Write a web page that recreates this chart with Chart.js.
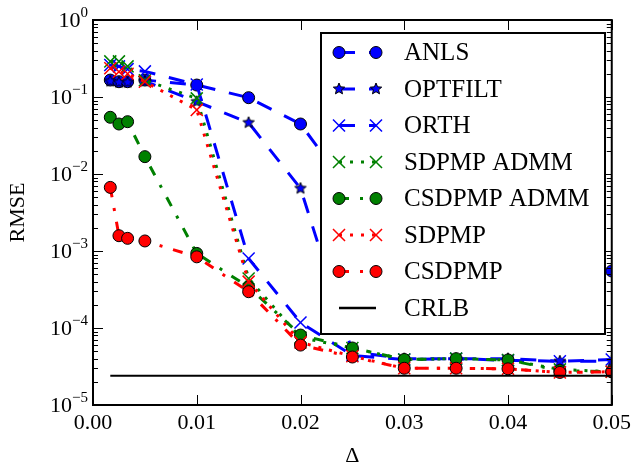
<!DOCTYPE html>
<html>
<head>
<meta charset="utf-8">
<script src="https://cdn.jsdelivr.net/npm/chart.js@4.4.0/dist/chart.umd.min.js"></script>
<style>
html, body { margin: 0; padding: 0; background: #fff; }
#wrap { width: 636px; height: 464px; }
</style>
</head>
<body>
<div id="wrap"><canvas id="rmseChart" width="636" height="464"></canvas></div>
<script>
// x values (Delta)
var delta = [1/600, 1/400, 1/300, 0.005, 0.01, 0.015, 0.02, 0.025, 0.03, 0.035, 0.04, 0.045, 0.05];

// RMSE per method
var anls       = [0.166, 0.158, 0.158, 0.166, 0.143, 0.098, 0.0446, 0.0055, 0.002, 0.0012, 8e-4, 6.5e-4, 5.5e-4];
var optfilt    = [0.16, 0.155, 0.155, 0.16, 0.087, 0.0464, 0.0065, 4.9e-5, 4.0e-5, 4.0e-5, 4.0e-5, 3.7e-5, 3.7e-5];
var orth       = [0.26, 0.25, 0.23, 0.215, 0.145, 8.0e-4, 1.18e-4, 4.4e-5, 3.9e-5, 4.0e-5, 3.8e-5, 3.7e-5, 3.9e-5];
var sdpmpAdmm  = [0.29, 0.29, 0.25, 0.165, 0.096, 4.4e-4, 7.5e-5, 5.5e-5, 3.9e-5, 4.0e-5, 3.85e-5, 2.9e-5, 2.7e-5];
var csdpmpAdmm = [0.0545, 0.0446, 0.0478, 0.0168, 9.3e-4, 3.4e-4, 8.1e-5, 5.5e-5, 3.9e-5, 4.0e-5, 3.85e-5, 2.8e-5, 2.7e-5];
var sdpmp      = [0.236, 0.213, 0.2, 0.158, 0.068, 4.0e-4, 6.5e-5, 4.3e-5, 3.0e-5, 3.0e-5, 2.95e-5, 2.65e-5, 2.7e-5];
var csdpmp     = [6.7e-3, 1.58e-3, 1.46e-3, 1.35e-3, 8.4e-4, 2.96e-4, 6.0e-5, 4.2e-5, 3.0e-5, 3.0e-5, 2.95e-5, 2.65e-5, 2.7e-5];
var crlb       = [2.4e-5, 2.4e-5, 2.4e-5, 2.4e-5, 2.4e-5, 2.4e-5, 2.4e-5, 2.4e-5, 2.4e-5, 2.4e-5, 2.4e-5, 2.4e-5, 2.4e-5];

var seriesNames = ['ANLS', 'OPTFILT', 'ORTH', 'SDPMP ADMM', 'CSDPMP ADMM', 'SDPMP', 'CSDPMP', 'CRLB'];
var xTicks = [0, 0.01, 0.02, 0.03, 0.04, 0.05];
var yExps = [0, -1, -2, -3, -4, -5];

var FONT = "'Liberation Serif', 'Times New Roman', serif";
var BLUE = '#0000ff', GREEN = '#008000', RED = '#ff0000';
var DASHED = [16, 14], DOTTED = [3, 8], DASHDOT = [10, 11, 3, 11];

// filled star marker with black edge
function makeStar(r, fill) {
    var c = document.createElement('canvas');
    var s = Math.ceil(r * 2 + 4);
    c.width = s; c.height = s;
    var g = c.getContext('2d');
    g.beginPath();
    for (var i = 0; i < 10; i++) {
        var rr = i % 2 ? r * 0.45 : r;
        var a = -Math.PI / 2 + i * Math.PI / 5;
        g.lineTo(s / 2 + rr * Math.cos(a), s / 2 + rr * Math.sin(a));
    }
    g.closePath();
    g.fillStyle = fill; g.fill();
    g.strokeStyle = '#000'; g.lineWidth = 1; g.stroke();
    return c;
}
var starImg = makeStar(6, BLUE);

function pts(values) {
    return values.map(function (v, i) { return { x: delta[i], y: v }; });
}

var styles = [
    { color: BLUE,  dash: DASHED,  marker: 'circle',   fill: BLUE,  radius: 6,   lw: 3 },
    { color: BLUE,  dash: DASHED,  marker: starImg,    fill: BLUE,  radius: 6,   lw: 3 },
    { color: BLUE,  dash: DASHED,  marker: 'crossRot', fill: BLUE,  radius: 8.5, lw: 3 },
    { color: GREEN, dash: DOTTED,  marker: 'crossRot', fill: GREEN, radius: 8.5, lw: 3 },
    { color: GREEN, dash: DASHDOT, marker: 'circle',   fill: GREEN, radius: 6,   lw: 3 },
    { color: RED,   dash: DOTTED,  marker: 'crossRot', fill: RED,   radius: 8.5, lw: 3 },
    { color: RED,   dash: DASHDOT, marker: 'circle',   fill: RED,   radius: 6,   lw: 3 },
    { color: '#000', dash: [],     marker: false,      fill: '#000', radius: 0,  lw: 2 }
];
var allSeries = [anls, optfilt, orth, sdpmpAdmm, csdpmpAdmm, sdpmp, csdpmp, crlb];

var datasets = allSeries.map(function (vals, i) {
    var st = styles[i];
    var isCross = st.marker === 'crossRot';
    return {
        label: seriesNames[i],
        data: pts(vals),
        borderColor: st.color,
        borderWidth: st.lw,
        borderDash: st.dash,
        borderCapStyle: 'butt',
        tension: 0,
        fill: false,
        pointStyle: st.marker || 'circle',
        pointRadius: st.radius,
        pointBackgroundColor: st.fill,
        pointBorderColor: isCross ? st.color : '#000',
        pointBorderWidth: isCross ? 1.5 : 1,
        pointHoverRadius: st.radius,
        order: allSeries.length - i
    };
});

function drawMarker(ctx, st, x, y) {
    if (!st.marker) return;
    if (st.marker === 'circle') {
        ctx.beginPath();
        ctx.arc(x, y, st.radius, 0, Math.PI * 2);
        ctx.fillStyle = st.fill; ctx.fill();
        ctx.lineWidth = 1; ctx.strokeStyle = '#000'; ctx.stroke();
    } else if (st.marker === 'crossRot') {
        var d = st.radius * Math.SQRT1_2;
        ctx.beginPath();
        ctx.moveTo(x - d, y - d); ctx.lineTo(x + d, y + d);
        ctx.moveTo(x - d, y + d); ctx.lineTo(x + d, y - d);
        ctx.lineWidth = 1.5; ctx.strokeStyle = st.color; ctx.stroke();
    } else {
        ctx.drawImage(st.marker, x - st.marker.width / 2, y - st.marker.height / 2);
    }
}

// frame, inward ticks, y labels with exponents, legend box
var decorations = {
    id: 'decorations',
    afterDraw: function (chart) {
        var ctx = chart.ctx, a = chart.chartArea;
        var xs = chart.scales.x, ys = chart.scales.y;
        ctx.save();
        ctx.strokeStyle = '#000';
        ctx.lineWidth = 1;
        ctx.setLineDash([]);
        ctx.beginPath();
        xTicks.forEach(function (v) {
            var px = Math.round(xs.getPixelForValue(v)) + 0.5;
            ctx.moveTo(px, a.bottom); ctx.lineTo(px, a.bottom - 10);
            ctx.moveTo(px, a.top); ctx.lineTo(px, a.top + 10);
        });
        yExps.forEach(function (e) {
            for (var m = 1; m <= 9; m++) {
                var v = m * Math.pow(10, e);
                if (v > 1.0001) break;
                if (e === 0 && m > 1) break;
                var py = Math.round(ys.getPixelForValue(v)) + 0.5;
                var len = m === 1 ? 10 : 5;
                ctx.moveTo(a.left, py); ctx.lineTo(a.left + len, py);
                ctx.moveTo(a.right, py); ctx.lineTo(a.right - len, py);
            }
        });
        ctx.stroke();
        ctx.lineWidth = 2;
        ctx.strokeRect(a.left, a.top, a.right - a.left, a.bottom - a.top);

        // y tick labels 10^e
        ctx.fillStyle = '#000';
        yExps.forEach(function (e) {
            var py = ys.getPixelForValue(Math.pow(10, e));
            var expTxt = e === 0 ? '0' : '\u2212' + (-e);
            ctx.font = '15px ' + FONT;
            var ew = ctx.measureText(expTxt).width;
            var xr = a.left - 5;
            ctx.textAlign = 'left';
            ctx.textBaseline = 'alphabetic';
            ctx.fillText(expTxt, xr - ew, py - 3);
            ctx.font = '22px ' + FONT;
            ctx.textAlign = 'right';
            ctx.textBaseline = 'middle';
            ctx.fillText('10', xr - ew, py + 1);
        });

        // legend
        var bx = 321, by = 33, bw = 284, bh = 301;
        ctx.fillStyle = '#fff';
        ctx.fillRect(bx, by, bw, bh);
        ctx.lineWidth = 2;
        ctx.strokeStyle = '#000';
        ctx.strokeRect(bx, by, bw, bh);
        seriesNames.forEach(function (name, i) {
            var st = styles[i];
            var ry = 52.5 + i * 36.5;
            var x1 = 339, x2 = 376;
            ctx.beginPath();
            ctx.setLineDash(st.dash);
            ctx.lineCap = 'butt';
            ctx.lineWidth = st.marker ? st.lw : 2.5;
            ctx.strokeStyle = st.color;
            ctx.moveTo(x1, ry); ctx.lineTo(x2, ry);
            ctx.stroke();
            ctx.setLineDash([]);
            drawMarker(ctx, st, x1, ry);
            drawMarker(ctx, st, x2, ry);
            ctx.fillStyle = '#000';
            ctx.font = '25px ' + FONT;
            ctx.textAlign = 'left';
            ctx.textBaseline = 'middle';
            ctx.fillText(name, 404, ry + 1);
        });
        ctx.restore();
    }
};

new Chart(document.getElementById('rmseChart').getContext('2d'), {
    type: 'line',
    data: { datasets: datasets },
    options: {
        responsive: false,
        animation: false,
        devicePixelRatio: 1,
        layout: { padding: { left: 0, top: 20, right: 20, bottom: 0 } },
        plugins: { legend: { display: false }, tooltip: { enabled: false } },
        scales: {
            x: {
                type: 'linear',
                min: 0, max: 0.05,
                grid: { display: false, drawTicks: false },
                border: { display: false },
                ticks: {
                    stepSize: 0.01,
                    padding: 5,
                    color: '#000',
                    font: { family: FONT, size: 22 },
                    maxRotation: 0,
                    callback: function (v) { return Number(v).toFixed(2); }
                },
                title: { display: true, text: '\u0394', color: '#000', font: { family: FONT, size: 22, lineHeight: 1 }, padding: { top: 0, bottom: -3 } },
                afterFit: function (s) { s.height = 59; }
            },
            y: {
                type: 'logarithmic',
                min: 1e-5, max: 1,
                grid: { display: false, drawTicks: false },
                border: { display: false },
                ticks: { display: false },
                title: { display: true, text: 'RMSE', color: '#000', font: { family: FONT, size: 22 }, padding: { top: 5, bottom: 0 } },
                afterFit: function (s) { s.width = 93; }
            }
        }
    },
    plugins: [decorations]
});
</script>
</body>
</html>
